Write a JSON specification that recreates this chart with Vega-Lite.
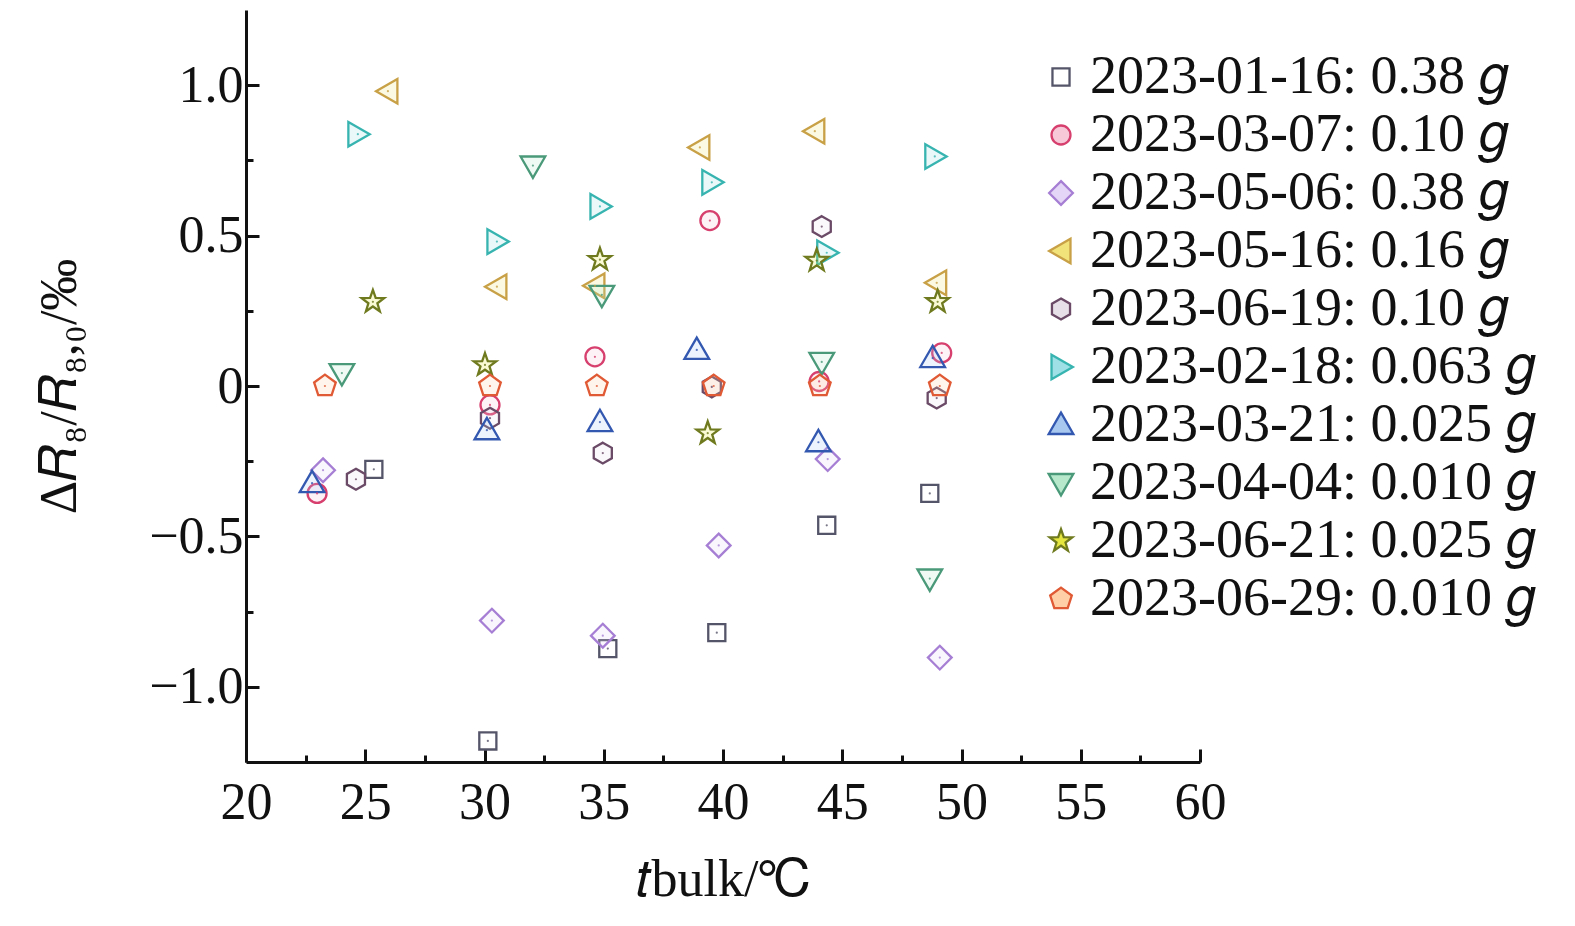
{
  "$schema": "https://vega.github.io/schema/vega-lite/v6.json",
  "autosize": {"type": "none"},
  "width": 954,
  "height": 752,
  "padding": {"left": 246, "top": 10, "right": 375, "bottom": 164},
  "background": "white",
  "config": {
    "view": {"stroke": null},
    "font": "Liberation Serif",
    "axis": {
      "grid": false,
      "domainColor": "#111111",
      "domainWidth": 3,
      "tickColor": "#111111",
      "tickWidth": 3,
      "labelFont": "Liberation Serif",
      "labelFontSize": 52,
      "labelColor": "#111111",
      "titleFont": "Liberation Serif",
      "titleFontSize": 52,
      "titleFontWeight": "normal",
      "titleColor": "#111111"
    },
    "legend": {
      "labelFont": "Liberation Serif",
      "labelFontSize": 54,
      "labelColor": "#111111",
      "labelLimit": 600
    }
  },
  "data": {
    "values": [
      {"series": "2023-01-16: 0.38 𝑔", "x": 25.36, "y": -0.277},
      {"series": "2023-01-16: 0.38 𝑔", "x": 30.14, "y": -1.18},
      {"series": "2023-01-16: 0.38 𝑔", "x": 35.17, "y": -0.873},
      {"series": "2023-01-16: 0.38 𝑔", "x": 39.74, "y": -0.82},
      {"series": "2023-01-16: 0.38 𝑔", "x": 44.35, "y": -0.463},
      {"series": "2023-01-16: 0.38 𝑔", "x": 48.67, "y": -0.357},
      {"series": "2023-03-07: 0.10 𝑔", "x": 22.98, "y": -0.357},
      {"series": "2023-03-07: 0.10 𝑔", "x": 30.23, "y": -0.063},
      {"series": "2023-03-07: 0.10 𝑔", "x": 34.63, "y": 0.097},
      {"series": "2023-03-07: 0.10 𝑔", "x": 39.45, "y": 0.55},
      {"series": "2023-03-07: 0.10 𝑔", "x": 44.03, "y": 0.015},
      {"series": "2023-03-07: 0.10 𝑔", "x": 49.17, "y": 0.11},
      {"series": "2023-05-06: 0.38 𝑔", "x": 23.23, "y": -0.28},
      {"series": "2023-05-06: 0.38 𝑔", "x": 30.31, "y": -0.78},
      {"series": "2023-05-06: 0.38 𝑔", "x": 34.96, "y": -0.83},
      {"series": "2023-05-06: 0.38 𝑔", "x": 39.82, "y": -0.53},
      {"series": "2023-05-06: 0.38 𝑔", "x": 44.39, "y": -0.243},
      {"series": "2023-05-06: 0.38 𝑔", "x": 49.09, "y": -0.903},
      {"series": "2023-05-16: 0.16 𝑔", "x": 25.95, "y": 0.98},
      {"series": "2023-05-16: 0.16 𝑔", "x": 30.52, "y": 0.33},
      {"series": "2023-05-16: 0.16 𝑔", "x": 34.63, "y": 0.333},
      {"series": "2023-05-16: 0.16 𝑔", "x": 39.03, "y": 0.793},
      {"series": "2023-05-16: 0.16 𝑔", "x": 43.85, "y": 0.847},
      {"series": "2023-05-16: 0.16 𝑔", "x": 48.96, "y": 0.343},
      {"series": "2023-06-19: 0.10 𝑔", "x": 24.61, "y": -0.31},
      {"series": "2023-06-19: 0.10 𝑔", "x": 30.23, "y": -0.107},
      {"series": "2023-06-19: 0.10 𝑔", "x": 34.96, "y": -0.223},
      {"series": "2023-06-19: 0.10 𝑔", "x": 39.53, "y": -0.003},
      {"series": "2023-06-19: 0.10 𝑔", "x": 44.14, "y": 0.53},
      {"series": "2023-06-19: 0.10 𝑔", "x": 48.96, "y": -0.04},
      {"series": "2023-02-18: 0.063 𝑔", "x": 24.69, "y": 0.837},
      {"series": "2023-02-18: 0.063 𝑔", "x": 30.52, "y": 0.48},
      {"series": "2023-02-18: 0.063 𝑔", "x": 34.84, "y": 0.597},
      {"series": "2023-02-18: 0.063 𝑔", "x": 39.53, "y": 0.677},
      {"series": "2023-02-18: 0.063 𝑔", "x": 44.35, "y": 0.443},
      {"series": "2023-02-18: 0.063 𝑔", "x": 48.88, "y": 0.763},
      {"series": "2023-03-21: 0.025 𝑔", "x": 22.77, "y": -0.323},
      {"series": "2023-03-21: 0.025 𝑔", "x": 30.1, "y": -0.147},
      {"series": "2023-03-21: 0.025 𝑔", "x": 34.84, "y": -0.12},
      {"series": "2023-03-21: 0.025 𝑔", "x": 38.9, "y": 0.12},
      {"series": "2023-03-21: 0.025 𝑔", "x": 44.0, "y": -0.187},
      {"series": "2023-03-21: 0.025 𝑔", "x": 48.79, "y": 0.093},
      {"series": "2023-04-04: 0.010 𝑔", "x": 24.02, "y": 0.043},
      {"series": "2023-04-04: 0.010 𝑔", "x": 32.03, "y": 0.733},
      {"series": "2023-04-04: 0.010 𝑔", "x": 34.92, "y": 0.303},
      {"series": "2023-04-04: 0.010 𝑔", "x": 44.14, "y": 0.08},
      {"series": "2023-04-04: 0.010 𝑔", "x": 48.67, "y": -0.64},
      {"series": "2023-06-21: 0.025 𝑔", "x": 25.32, "y": 0.28},
      {"series": "2023-06-21: 0.025 𝑔", "x": 30.02, "y": 0.07},
      {"series": "2023-06-21: 0.025 𝑔", "x": 34.84, "y": 0.42},
      {"series": "2023-06-21: 0.025 𝑔", "x": 39.36, "y": -0.157},
      {"series": "2023-06-21: 0.025 𝑔", "x": 43.93, "y": 0.417},
      {"series": "2023-06-21: 0.025 𝑔", "x": 49.0, "y": 0.28},
      {"series": "2023-06-29: 0.010 𝑔", "x": 23.31, "y": 0.0},
      {"series": "2023-06-29: 0.010 𝑔", "x": 30.23, "y": 0.0},
      {"series": "2023-06-29: 0.010 𝑔", "x": 34.71, "y": 0.0},
      {"series": "2023-06-29: 0.010 𝑔", "x": 39.61, "y": 0.0},
      {"series": "2023-06-29: 0.010 𝑔", "x": 44.06, "y": 0.0},
      {"series": "2023-06-29: 0.010 𝑔", "x": 49.09, "y": 0.0}
    ]
  },
  "layer": [
    {
      "mark": {"type": "point", "size": 360, "strokeWidth": 2.3, "fillOpacity": 0.22},
      "encoding": {
        "x": {
          "field": "x", "type": "quantitative",
          "scale": {"domain": [20, 60], "nice": false, "zero": false},
          "axis": {
            "values": [20, 22.5, 25, 27.5, 30, 32.5, 35, 37.5, 40, 42.5, 45, 47.5, 50, 52.5, 55, 57.5, 60],
            "labelExpr": "datum.value % 5 === 0 ? format(datum.value, 'd') : ''",
            "tickSize": {"condition": {"test": "datum.value % 5 === 0", "value": -13}, "value": -7},
            "labelPadding": 28,
            "labelFlush": false,
            "title": "𝑡bulk/℃",
            "titlePadding": 26
          }
        },
        "y": {
          "field": "y", "type": "quantitative",
          "scale": {"domain": [-1.25, 1.25], "nice": false, "zero": false},
          "axis": {
            "values": [-1, -0.75, -0.5, -0.25, 0, 0.25, 0.5, 0.75, 1],
            "labelExpr": "datum.value % 0.5 !== 0 ? '' : (datum.value === 0 ? '0' : (datum.value < 0 ? '−' + format(-datum.value, '.1f') : format(datum.value, '.1f')))",
            "tickSize": {"condition": {"test": "datum.value % 0.5 === 0", "value": -13}, "value": -7},
            "labelPadding": 16,
            "labelFlush": false,
            "title": "Δ𝑅₈/𝑅₈,₀/‰",
            "titlePadding": 62
          }
        },
        "stroke": {
          "field": "series", "type": "nominal",
          "scale": {
            "domain": ["2023-01-16: 0.38 𝑔", "2023-03-07: 0.10 𝑔", "2023-05-06: 0.38 𝑔", "2023-05-16: 0.16 𝑔", "2023-06-19: 0.10 𝑔", "2023-02-18: 0.063 𝑔", "2023-03-21: 0.025 𝑔", "2023-04-04: 0.010 𝑔", "2023-06-21: 0.025 𝑔", "2023-06-29: 0.010 𝑔"],
            "range": ["#55556a", "#d63f6e", "#a67fd4", "#c8a046", "#6a4a66", "#38b4b0", "#3358b0", "#4a9a7a", "#6f7a1e", "#e05a35"]
          },
          "legend": {
            "orient": "none", "legendX": 788, "legendY": 40, "title": null,
            "symbolSize": 360, "symbolStrokeWidth": 2.3, "rowPadding": 4, "labelOffset": 2
          }
        },
        "fill": {
          "field": "series", "type": "nominal",
          "scale": {
            "domain": ["2023-01-16: 0.38 𝑔", "2023-03-07: 0.10 𝑔", "2023-05-06: 0.38 𝑔", "2023-05-16: 0.16 𝑔", "2023-06-19: 0.10 𝑔", "2023-02-18: 0.063 𝑔", "2023-03-21: 0.025 𝑔", "2023-04-04: 0.010 𝑔", "2023-06-21: 0.025 𝑔", "2023-06-29: 0.010 𝑔"],
            "range": ["#ffffff", "#f6c8d8", "#e4d6f6", "#f2e27a", "#e8e0e8", "#9ee0e6", "#a8c8f0", "#b8e8cc", "#e6e640", "#ffd0a8"]
          },
          "legend": {
            "orient": "none", "legendX": 788, "legendY": 40, "title": null,
            "symbolSize": 360, "symbolStrokeWidth": 2.3, "rowPadding": 4, "labelOffset": 2
          }
        },
        "shape": {
          "field": "series", "type": "nominal",
          "scale": {
            "domain": ["2023-01-16: 0.38 𝑔", "2023-03-07: 0.10 𝑔", "2023-05-06: 0.38 𝑔", "2023-05-16: 0.16 𝑔", "2023-06-19: 0.10 𝑔", "2023-02-18: 0.063 𝑔", "2023-03-21: 0.025 𝑔", "2023-04-04: 0.010 𝑔", "2023-06-21: 0.025 𝑔", "2023-06-29: 0.010 𝑔"],
            "range": [
              "M-0.9,-0.9L0.9,-0.9L0.9,0.9L-0.9,0.9Z",
              "circle",
              "M0,-1.25L1.25,0L0,1.25L-1.25,0Z",
              "M-1.25,0L1.0,-1.3L1.0,1.3Z",
              "M0,-1.1L0.953,-0.55L0.953,0.55L0,1.1L-0.953,0.55L-0.953,-0.55Z",
              "M1.25,0L-1.0,-1.3L-1.0,1.3Z",
              "M0,-1.3L1.3,0.95L-1.3,0.95Z",
              "M0,1.3L1.3,-0.95L-1.3,-0.95Z",
              "M0,-1.25L0.294,-0.405L1.189,-0.386L0.475,0.155L0.735,1.011L0,0.5L-0.735,1.011L-0.475,0.155L-1.189,-0.386L-0.294,-0.405Z",
              "M0,-1.2L1.141,-0.371L0.705,0.971L-0.705,0.971L-1.141,-0.371Z"
            ]
          },
          "legend": {
            "orient": "none", "legendX": 788, "legendY": 40, "title": null,
            "symbolSize": 360, "symbolStrokeWidth": 2.3, "rowPadding": 4, "labelOffset": 2
          }
        }
      }
    },
    {
      "mark": {"type": "point", "size": 5, "filled": true, "opacity": 0.8, "shape": "circle"},
      "encoding": {
        "x": {"field": "x", "type": "quantitative"},
        "y": {"field": "y", "type": "quantitative"},
        "color": {
          "field": "series", "type": "nominal",
          "scale": {
            "domain": ["2023-01-16: 0.38 𝑔", "2023-03-07: 0.10 𝑔", "2023-05-06: 0.38 𝑔", "2023-05-16: 0.16 𝑔", "2023-06-19: 0.10 𝑔", "2023-02-18: 0.063 𝑔", "2023-03-21: 0.025 𝑔", "2023-04-04: 0.010 𝑔", "2023-06-21: 0.025 𝑔", "2023-06-29: 0.010 𝑔"],
            "range": ["#55556a", "#d63f6e", "#a67fd4", "#c8a046", "#6a4a66", "#38b4b0", "#3358b0", "#4a9a7a", "#6f7a1e", "#e05a35"]
          },
          "legend": null
        }
      }
    }
  ]
}
